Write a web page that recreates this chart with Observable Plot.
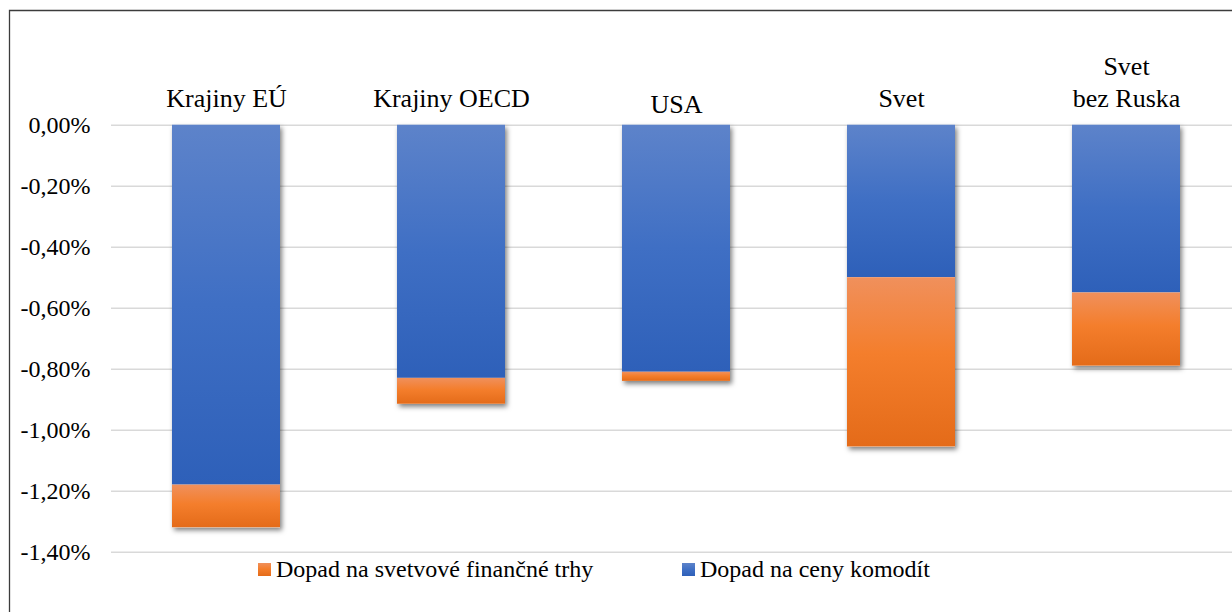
<!DOCTYPE html>
<html>
<head>
<meta charset="utf-8">
<script src="https://cdn.jsdelivr.net/npm/d3@7"></script>
<script src="https://cdn.jsdelivr.net/npm/@observablehq/plot@0.6"></script>
<style>
  html, body { margin: 0; padding: 0; background: #fff; }
  #chart { position: relative; width: 1232px; height: 612px; overflow: hidden; }
</style>
</head>
<body>
<div id="chart"></div>
<script>
// ---- data ----
const categories = ["Krajiny EÚ", "Krajiny OECD", "USA", "Svet", "Svet bez Ruska"];
const categoryLabels = ["Krajiny EÚ", "Krajiny OECD", "USA", "Svet", "Svet\nbez Ruska"];
const commodityImpact = [-1.18, -0.83, -0.81, -0.50, -0.55];     // Dopad na ceny komodít
const financialImpact = [-0.14, -0.085, -0.03, -0.555, -0.24];   // Dopad na svetvové finančné trhy
const seriesNames = ["Dopad na svetvové finančné trhy", "Dopad na ceny komodít"];
const yTicks = [0, -0.2, -0.4, -0.6, -0.8, -1.0, -1.2, -1.4];

// ---- table for the library ----
const rows = categories.map((c, i) => ({
  cat: c,
  label: categoryLabels[i],
  commodity: commodityImpact[i],
  total: commodityImpact[i] + financialImpact[i]
}));

const fmt = d => d.toFixed(2).replace(".", ",") + "%";
const serif = "Liberation Serif";

const chart = Plot.plot({
  width: 1232,
  height: 612,
  marginLeft: 111,
  marginRight: 0,
  marginTop: 124.7,
  marginBottom: 60.3,
  style: { fontSize: "24px", color: "#000", background: "#fff", overflow: "visible" },
  x: { domain: categories, range: [111, 1240], paddingInner: 0.522, paddingOuter: 0.261, axis: null },
  y: { domain: [-1.4, 0], axis: null },
  marks: [
    Plot.gridY(yTicks, { stroke: "#d9d9d9", strokeOpacity: 1, strokeWidth: 1.6 }),
    Plot.axisY(yTicks, { tickSize: 0, tickPadding: 21, tickFormat: fmt, fontSize: 24, fontFamily: serif, label: null, fill: "#000" }),
    // shadow layer
    Plot.barY(rows, { x: "cat", y1: 0, y2: "total", fill: "#fff" }),
    Plot.barY(rows, { x: "cat", y1: 0, y2: "commodity", fill: "url(#gBlue)" }),
    Plot.barY(rows, { x: "cat", y1: "commodity", y2: "total", fill: "url(#gOrange)" }),
    Plot.text(rows.filter(d => d.cat !== "USA"), {
      x: "cat", y: () => 0, text: "label", lineAnchor: "bottom", dy: -18,
      fontSize: 26, fontFamily: serif, lineHeight: 1.22, fill: "#000"
    }),
    Plot.text(rows.filter(d => d.cat === "USA"), {
      x: "cat", y: () => 0, text: "label", lineAnchor: "bottom", dy: -12,
      fontSize: 26, fontFamily: serif, fill: "#000"
    })
  ]
});

const svg = d3.select(chart);
svg.attr("font-family", serif);
const defs = svg.insert("defs", ":first-child");
const gb = defs.append("linearGradient").attr("id", "gBlue").attr("x1", 0).attr("y1", 0).attr("x2", 0).attr("y2", 1);
gb.append("stop").attr("offset", "0%").attr("stop-color", "#5d83ca");
gb.append("stop").attr("offset", "50%").attr("stop-color", "#3f6fc4");
gb.append("stop").attr("offset", "100%").attr("stop-color", "#2e60b9");
const go = defs.append("linearGradient").attr("id", "gOrange").attr("x1", 0).attr("y1", 0).attr("x2", 0).attr("y2", 1);
go.append("stop").attr("offset", "0%").attr("stop-color", "#f0905c");
go.append("stop").attr("offset", "45%").attr("stop-color", "#f47e2c");
go.append("stop").attr("offset", "100%").attr("stop-color", "#e46b19");
const f = defs.append("filter").attr("id", "shadow").attr("x", "-20%").attr("y", "-20%").attr("width", "140%").attr("height", "140%");
f.append("feDropShadow").attr("dx", 2).attr("dy", 3).attr("stdDeviation", 2.6)
  .attr("flood-color", "#000").attr("flood-opacity", 0.5);

const barGroups = svg.selectAll("g[aria-label='bar']").nodes();
if (barGroups.length) d3.select(barGroups[0]).attr("filter", "url(#shadow)");

// outer chart-area frame (left and top edges visible)
svg.append("path")
  .attr("d", "M9.5,620 L9.5,10.5 L1240,10.5")
  .attr("fill", "none").attr("stroke", "#3c3c3c").attr("stroke-width", 1.3);

// legend
const legendItems = [
  { name: seriesNames[0], fill: "url(#gOrange)", x: 258 },
  { name: seriesNames[1], fill: "url(#gBlue)", x: 682 }
];
const lg = svg.append("g").attr("font-size", 24).attr("text-anchor", "start");
legendItems.forEach(it => {
  lg.append("rect").attr("x", it.x).attr("y", 563).attr("width", 13).attr("height", 13).attr("fill", it.fill);
  lg.append("text").attr("x", it.x + 18).attr("y", 577).attr("text-anchor", "start").attr("fill", "#000").text(it.name);
});

chart.style.setProperty("font-family", "'Liberation Serif', serif", "important");
svg.selectAll("g, text, tspan").each(function () {
  this.setAttribute("font-family", serif);
  this.style.setProperty("font-family", "'Liberation Serif', serif", "important");
});

document.getElementById("chart").appendChild(chart);
</script>
</body>
</html>
